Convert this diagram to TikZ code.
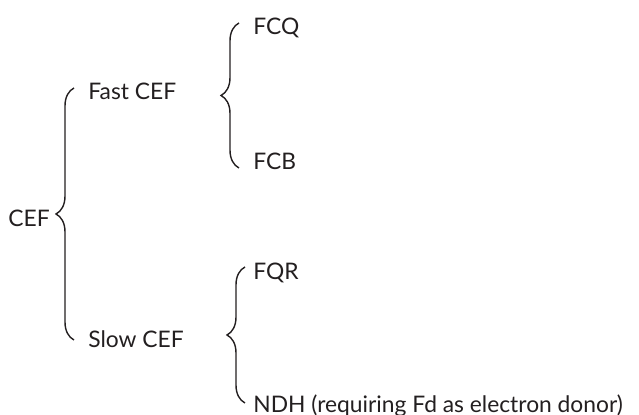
\documentclass[tikz,border=0pt]{standalone}
\usepackage{fontspec}
\setmainfont{Lato}
\usepackage{tikz}
\usetikzlibrary{decorations.pathreplacing, positioning}
\usepackage{xcolor}
\definecolor{inkgray}{HTML}{231F20}
\tikzset{
  lbl/.style={anchor=base west, inner sep=0pt, text=inkgray,
              font=\fontsize{11.4}{13}\selectfont},
  curly/.style={draw=inkgray, line width=0.7pt, decorate,
                decoration={brace, amplitude=9pt}}
}

\begin{document}
\begin{tikzpicture}[x=0.5pt, y=-0.5pt]
  \useasboundingbox (0,0) rectangle (639,415);
  \node[lbl] (cef) at (8, 227) {CEF};
  \node[lbl] (fast) at (88, 100) {Fast CEF};
  \node[lbl] (slow) at (88, 348) {Slow CEF};
  \node[lbl] (fcq) at (253, 35) {FCQ};
  \node[lbl] (fcb) at (253, 170) {FCB};
  \node[lbl] (fqr) at (253, 280) {FQR};
  \node[lbl] (ndh) at (253, 413) {NDH (requiring Fd as electron donor)};
  \draw[curly] ([xshift=-7pt, yshift=4pt]slow.base west)
    -- ([xshift=-7pt, yshift=6pt]fast.base west);
  \draw[curly] ([xshift=-7pt, yshift=1pt]fcb.base west)
    -- ([xshift=-7pt, yshift=6pt]fcq.base west);
  \draw[curly] ([xshift=-4pt, yshift=5pt]ndh.base west)
    -- ([xshift=-4pt, yshift=6.5pt]fqr.base west);
\end{tikzpicture}
\end{document}
